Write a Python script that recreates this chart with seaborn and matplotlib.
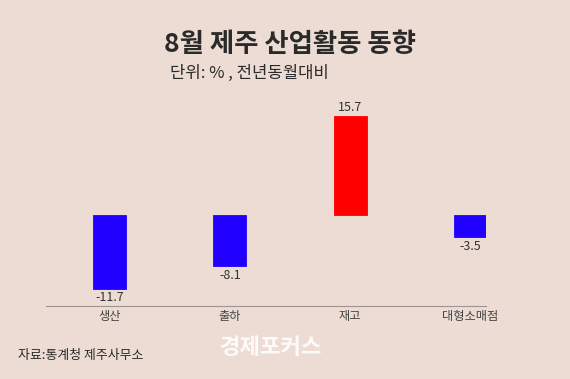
import matplotlib
matplotlib.use("Agg")
import matplotlib.pyplot as plt
import seaborn as sns
import pandas as pd

# Data
categories = ["생산", "출하", "재고", "대형소매점"]
values = [-11.7, -8.1, 15.7, -3.5]

bg = "#ecdcd3"
sns.set_theme(style="white")
plt.rcParams['font.family'] = ['Noto Sans CJK KR', 'DejaVu Sans']

df = pd.DataFrame({"category": categories, "value": values})
colors = ["#ff0000" if v > 0 else "#2200ff" for v in values]

fig = plt.figure(figsize=(5.7, 3.79), dpi=100, facecolor=bg)
ax = fig.add_axes([46 / 570, 1 - 306 / 379, 440 / 570, 206 / 379])
ax.set_facecolor(bg)

sns.barplot(data=df, x="category", y="value", hue="category", palette=colors,
            legend=False, width=0.275, ax=ax, saturation=1)
for p in ax.patches:
    p.set_edgecolor(p.get_facecolor())
    p.set_linewidth(0.6)

for i, v in enumerate(values):
    if v > 0:
        ax.text(i, v + 0.4, f"{v}", ha="center", va="bottom", fontsize=9, color="#333333")
    else:
        ax.text(i, v - 0.4, f"{v}", ha="center", va="top", fontsize=9, color="#333333")

ax.set_xlim(-0.533, 3.133)
ax.set_ylim(-14.45, 18.3)
ax.set_yticks([])
ax.set_xlabel("")
ax.set_ylabel("")
ax.tick_params(axis="x", length=0, pad=3, labelsize=8.8, labelcolor="#444444")
for s in ["top", "left", "right"]:
    ax.spines[s].set_visible(False)
ax.spines["bottom"].set_color("#a09490")
ax.spines["bottom"].set_linewidth(0.8)

fig.text(0.509, 1 - 45 / 379, "8월 제주 산업활동 동향", ha="center", va="center",
         fontsize=19, fontweight="bold", color="#2a2a2a")
fig.text(170 / 570, 1 - 73 / 379, "단위: % , 전년동월대비", ha="left", va="center",
         fontsize=12, color="#2a2a2a")
fig.text(18 / 570, 1 - 355 / 379, "자료:통계청 제주사무소", ha="left", va="center",
         fontsize=9.3, color="#2a2a2a")
fig.text(220 / 570, 1 - 347 / 379, "경제포커스", ha="left", va="center",
         fontsize=16, fontweight="bold", color="white", alpha=0.9)

fig.savefig("out.png", dpi=100, facecolor=bg)
